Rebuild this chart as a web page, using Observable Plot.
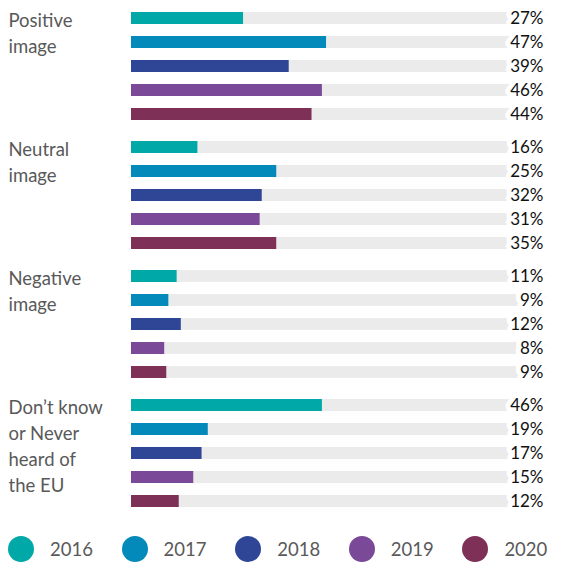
<!DOCTYPE html>
<html>
<head>
<meta charset="utf-8">
<script src="https://cdn.jsdelivr.net/npm/d3@7"></script>
<script src="https://cdn.jsdelivr.net/npm/@observablehq/plot@0.6"></script>
<style>
  body { margin: 0; background: #fff; font-family: Lato, sans-serif; }
  #legend { display: flex; margin: 14px 0 0 8px; }
  .item { display: flex; align-items: center; width: 121px; }
  .dot { width: 26px; height: 26px; border-radius: 50%; }
  .lab { margin-left: 16px; font-size: 18.5px; color: #595959; }
</style>
</head>
<body>
<div id="chart"></div>
<div id="legend"></div>
<script>
const categories = ["Positive image", "Neutral image", "Negative image", "Don't know or Never heard of the EU"];
const categoryLabels = ["Positive\nimage", "Neutral\nimage", "Negative\nimage", "Don’t know\nor Never\nheard of\nthe EU"];
const years = ["2016", "2017", "2018", "2019", "2020"];
const colors = ["#00a9a7", "#0389ba", "#2e4695", "#7a4a98", "#7e3057"];
// printed value labels
const positive = [27, 47, 39, 46, 44];
const neutral = [16, 25, 32, 31, 35];
const negative = [11, 9, 12, 8, 9];
const dontKnow = [46, 19, 17, 15, 12];
// bar lengths as drawn in the picture
const positiveBars = [27, 47, 38, 46, 43.5];
const neutralBars = [16, 35, 31.5, 31, 35];
const negativeBars = [11, 9, 12, 8, 8.5];
const dontKnowBars = [46, 18.5, 17, 15, 11.5];
const total = 100;

const series = [positive, neutral, negative, dontKnow];
const bars = [positiveBars, neutralBars, negativeBars, dontKnowBars];
const data = [];
categories.forEach((c, i) => years.forEach((y, j) => data.push({cat: c, year: y, value: series[i][j], bar: bars[i][j]})));

const chart = Plot.plot({
  width: 576,
  height: 522,
  marginTop: 3,
  marginBottom: 7,
  marginLeft: 131,
  marginRight: 30,
  style: {fontFamily: "Lato, sans-serif"},
  x: {domain: [0, total], axis: null},
  y: {domain: years, paddingInner: 0.5, paddingOuter: 0.25, axis: null},
  fy: {domain: categories, paddingInner: 0.055, paddingOuter: 0, axis: null},
  color: {domain: years, range: colors},
  marks: [
    Plot.barX(data, {fy: "cat", y: "year", x: () => total, fill: "#ebebeb"}),
    Plot.barX(data, {fy: "cat", y: "year", x: "bar", fill: "year"}),
    Plot.text(data, {fy: "cat", y: "year", text: d => d.value + "%", frameAnchor: "right", textAnchor: "end", dx: -3,
      fill: "#111", stroke: "white", strokeWidth: 10, fontSize: 17}),
    Plot.text(categories, {fy: d => d, text: (d, i) => categoryLabels[i], frameAnchor: "top-left", textAnchor: "start",
      lineAnchor: "top", dx: -123, dy: 3, lineHeight: 1.4, fontSize: 18.5, fill: "#595959"})
  ]
});
document.getElementById("chart").appendChild(chart);

const legend = document.getElementById("legend");
years.forEach((y, i) => {
  const it = document.createElement("div");
  it.className = "item";
  it.innerHTML = `<div class="dot" style="background:${colors[i]}"></div><span class="lab">${y}</span>`;
  legend.appendChild(it);
});
</script>
</body>
</html>
